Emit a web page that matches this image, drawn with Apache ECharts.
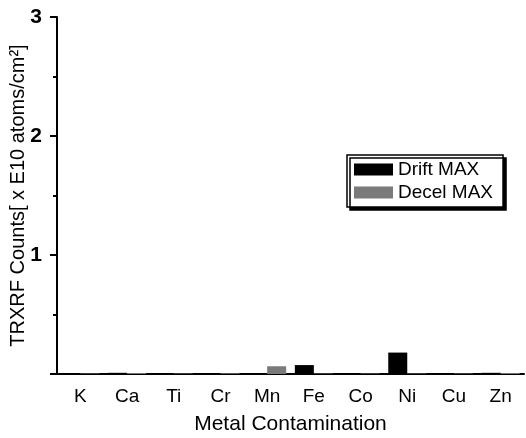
<!DOCTYPE html>
<html>
<head>
<meta charset="utf-8">
<script src="https://cdn.jsdelivr.net/npm/echarts@6/dist/echarts.min.js"></script>
<style>
  html, body { margin: 0; padding: 0; background: #fff; }
  #main { width: 526px; height: 438px; }
</style>
</head>
<body>
<div id="main"></div>
<script>
// metals on the x axis
var metals = ['K', 'Ca', 'Ti', 'Cr', 'Mn', 'Fe', 'Co', 'Ni', 'Cu', 'Zn'];
// TRXRF counts, x E10 atoms/cm2
var driftMax = [0.005, 0.01, 0.004, 0.004, 0.004, 0.075, 0.004, 0.18, 0.005, 0.01];
var decelMax = [0.004, 0.008, 0.004, 0.006, 0.065, 0.004, 0.004, 0.004, 0.004, 0.008];
var yTicks = [0, 1, 2, 3];

var font = 'Arial, "Liberation Sans", sans-serif';
var chart = echarts.init(document.getElementById('main'), null, { renderer: 'canvas' });

var options = {
  animation: false,
  backgroundColor: '#fff',
  grid: { left: 57, right: 2, top: 17, bottom: 64, containLabel: false, outerBoundsMode: 'none' },
  legend: {
    orient: 'vertical',
    left: 347,
    top: 155,
    icon: 'rect',
    itemWidth: 39,
    itemHeight: 12,
    itemGap: 4,
    padding: [5, 10, 5, 7],
    backgroundColor: '#fff',
    borderColor: '#000',
    borderWidth: 1.5,
    shadowColor: '#000',
    shadowOffsetX: 3,
    shadowOffsetY: 3,
    shadowBlur: 0,
    textStyle: { fontFamily: font, fontSize: 19, color: '#000' },
    data: ['Drift MAX', 'Decel MAX']
  },
  xAxis: [{
    type: 'category',
    data: metals,
    name: 'Metal Contamination',
    nameLocation: 'middle',
    nameGap: 40,
    nameTextStyle: { fontFamily: font, fontSize: 21, color: '#000' },
    axisLine: { lineStyle: { color: '#000', width: 2 } },
    axisTick: { alignWithLabel: true, length: 6, lineStyle: { color: '#000', width: 2 } },
    axisLabel: { fontFamily: font, fontSize: 19, color: '#000', margin: 13 }
  }, {
    type: 'category',
    data: metals,
    position: 'bottom',
    axisLine: { show: false },
    axisTick: { length: 5, lineStyle: { color: '#000', width: 2 } },
    axisLabel: { show: false }
  }],
  yAxis: {
    type: 'value',
    min: yTicks[0],
    max: yTicks[yTicks.length - 1],
    interval: 1,
    name: 'TRXRF Counts[ x E10 atoms/cm\u00b2]',
    nameLocation: 'middle',
    nameGap: 29,
    nameMoveOverlap: false,
    nameTextStyle: { fontFamily: font, fontSize: 20, color: '#000' },
    axisLine: { show: true, lineStyle: { color: '#000', width: 2 } },
    axisTick: { show: true, length: 7, lineStyle: { color: '#000', width: 2 } },
    minorTick: { show: true, splitNumber: 2, length: 4, lineStyle: { color: '#000', width: 2 } },
    splitLine: { show: false },
    axisLabel: {
      fontFamily: font, fontSize: 21, fontWeight: 'bold', color: '#000', margin: 15,
      formatter: function (v) { return v === 0 ? '' : String(v); }
    }
  },
  series: [{
    name: 'Drift MAX',
    type: 'bar',
    data: driftMax,
    barWidth: 19,
    barGap: '0%',
    itemStyle: { color: '#000' }
  }, {
    name: 'Decel MAX',
    type: 'bar',
    data: decelMax,
    barWidth: 19,
    barGap: '0%',
    itemStyle: { color: '#7a7a7a' }
  }]
};

chart.setOption(options);
</script>
</body>
</html>
